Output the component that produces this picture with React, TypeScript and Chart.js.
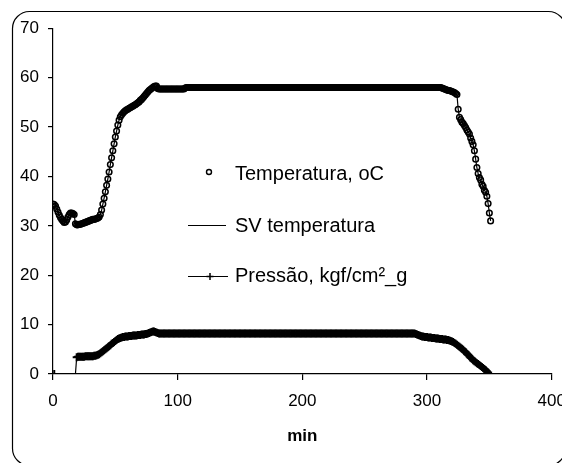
import React, { useEffect, useRef } from "react";
import { Chart, registerables } from "chart.js";

Chart.register(...registerables);

// Series are sampled once per minute, starting at minute 0 (index = minute).
const seriesNames = ["Temperatura, oC", "SV temperatura", "Pressão, kgf/cm²_g"];
const xAxisTitle = "min";
const xTicks = [0, 100, 200, 300, 400];
const yTicks = [0, 10, 20, 30, 40, 50, 60, 70];

// Temperatura, oC — minutes 0..351
const temperature: number[] = [
  34.4, 34.3, 34.0, 33.4, 32.8, 32.2, 31.7, 31.3, 31.0, 30.7, // 0
  30.8, 31.2, 31.8, 32.3, 32.6, 32.6, 32.5, 32.3, 30.4, 30.2, // 10
  30.2, 30.3, 30.3, 30.4, 30.5, 30.6, 30.7, 30.8, 30.9, 31.0, // 20
  31.1, 31.2, 31.3, 31.3, 31.4, 31.5, 31.6, 31.8, 32.3, 33.2, // 30
  34.4, 35.6, 36.9, 38.2, 39.5, 40.9, 42.4, 43.8, 45.2, 46.6, // 40
  48.0, 49.2, 50.4, 51.4, 52.1, 52.5, 52.8, 53.1, 53.3, 53.5, // 50
  53.6, 53.8, 53.9, 54.1, 54.2, 54.4, 54.5, 54.7, 54.9, 55.1, // 60
  55.4, 55.6, 55.9, 56.2, 56.5, 56.8, 57.1, 57.4, 57.6, 57.8, // 70
  58.0, 58.2, 58.3, 58.3, 57.8, 57.7, 57.7, 57.7, 57.7, 57.7, // 80
  57.7, 57.7, 57.7, 57.7, 57.7, 57.7, 57.7, 57.7, 57.7, 57.7, // 90
  57.7, 57.7, 57.7, 57.7, 57.7, 57.7, 57.9, 58.0, 58.0, 58.0, // 100
  58.0, 58.0, 58.0, 58.0, 58.0, 58.0, 58.0, 58.0, 58.0, 58.0, // 110
  58.0, 58.0, 58.0, 58.0, 58.0, 58.0, 58.0, 58.0, 58.0, 58.0, // 120
  58.0, 58.0, 58.0, 58.0, 58.0, 58.0, 58.0, 58.0, 58.0, 58.0, // 130
  58.0, 58.0, 58.0, 58.0, 58.0, 58.0, 58.0, 58.0, 58.0, 58.0, // 140
  58.0, 58.0, 58.0, 58.0, 58.0, 58.0, 58.0, 58.0, 58.0, 58.0, // 150
  58.0, 58.0, 58.0, 58.0, 58.0, 58.0, 58.0, 58.0, 58.0, 58.0, // 160
  58.0, 58.0, 58.0, 58.0, 58.0, 58.0, 58.0, 58.0, 58.0, 58.0, // 170
  58.0, 58.0, 58.0, 58.0, 58.0, 58.0, 58.0, 58.0, 58.0, 58.0, // 180
  58.0, 58.0, 58.0, 58.0, 58.0, 58.0, 58.0, 58.0, 58.0, 58.0, // 190
  58.0, 58.0, 58.0, 58.0, 58.0, 58.0, 58.0, 58.0, 58.0, 58.0, // 200
  58.0, 58.0, 58.0, 58.0, 58.0, 58.0, 58.0, 58.0, 58.0, 58.0, // 210
  58.0, 58.0, 58.0, 58.0, 58.0, 58.0, 58.0, 58.0, 58.0, 58.0, // 220
  58.0, 58.0, 58.0, 58.0, 58.0, 58.0, 58.0, 58.0, 58.0, 58.0, // 230
  58.0, 58.0, 58.0, 58.0, 58.0, 58.0, 58.0, 58.0, 58.0, 58.0, // 240
  58.0, 58.0, 58.0, 58.0, 58.0, 58.0, 58.0, 58.0, 58.0, 58.0, // 250
  58.0, 58.0, 58.0, 58.0, 58.0, 58.0, 58.0, 58.0, 58.0, 58.0, // 260
  58.0, 58.0, 58.0, 58.0, 58.0, 58.0, 58.0, 58.0, 58.0, 58.0, // 270
  58.0, 58.0, 58.0, 58.0, 58.0, 58.0, 58.0, 58.0, 58.0, 58.0, // 280
  58.0, 58.0, 58.0, 58.0, 58.0, 58.0, 58.0, 58.0, 58.0, 58.0, // 290
  58.0, 58.0, 58.0, 58.0, 58.0, 58.0, 58.0, 58.0, 58.0, 58.0, // 300
  58.0, 58.0, 57.9, 57.8, 57.7, 57.6, 57.5, 57.4, 57.4, 57.3, // 310
  57.2, 57.1, 57.0, 56.8, 56.6, 53.6, 52.0, 51.5, 51.0, 50.7, // 320
  50.3, 49.9, 49.4, 49.0, 48.6, 47.8, 47.1, 46.4, 45.2, 43.5, // 330
  41.8, 40.6, 39.8, 39.3, 38.4, 38.0, 37.2, 36.8, 36.0, 34.5, // 340
  32.6, 31.0, // 350
];

// SV temperatura — the set-value trace runs underneath the measured points
const svTemperature: number[] = temperature;

// Pressão, kgf/cm²_g — minutes 0..350
const pressure: (number | null)[] = [
  null, 0, null, null, null, null, null, null, null, null, // 0
  null, null, null, null, null, null, null, null, 0, 3.4, // 10
  3.5, 3.5, 3.5, 3.5, 3.5, 3.5, 3.6, 3.6, 3.6, 3.6, // 20
  3.6, 3.6, 3.6, 3.7, 3.7, 3.8, 3.9, 4.0, 4.2, 4.4, // 30
  4.6, 4.8, 5.0, 5.2, 5.4, 5.6, 5.8, 6.1, 6.3, 6.5, // 40
  6.7, 6.9, 7.1, 7.2, 7.3, 7.4, 7.5, 7.5, 7.6, 7.6, // 50
  7.6, 7.7, 7.7, 7.7, 7.8, 7.8, 7.8, 7.8, 7.9, 7.9, // 60
  7.9, 8.0, 8.0, 8.0, 8.1, 8.1, 8.2, 8.3, 8.4, 8.5, // 70
  8.6, 8.6, 8.5, 8.4, 8.3, 8.2, 8.2, 8.2, 8.2, 8.2, // 80
  8.2, 8.2, 8.2, 8.2, 8.2, 8.2, 8.2, 8.2, 8.2, 8.2, // 90
  8.2, 8.2, 8.2, 8.2, 8.2, 8.2, 8.2, 8.2, 8.2, 8.2, // 100
  8.2, 8.2, 8.2, 8.2, 8.2, 8.2, 8.2, 8.2, 8.2, 8.2, // 110
  8.2, 8.2, 8.2, 8.2, 8.2, 8.2, 8.2, 8.2, 8.2, 8.2, // 120
  8.2, 8.2, 8.2, 8.2, 8.2, 8.2, 8.2, 8.2, 8.2, 8.2, // 130
  8.2, 8.2, 8.2, 8.2, 8.2, 8.2, 8.2, 8.2, 8.2, 8.2, // 140
  8.2, 8.2, 8.2, 8.2, 8.2, 8.2, 8.2, 8.2, 8.2, 8.2, // 150
  8.2, 8.2, 8.2, 8.2, 8.2, 8.2, 8.2, 8.2, 8.2, 8.2, // 160
  8.2, 8.2, 8.2, 8.2, 8.2, 8.2, 8.2, 8.2, 8.2, 8.2, // 170
  8.2, 8.2, 8.2, 8.2, 8.2, 8.2, 8.2, 8.2, 8.2, 8.2, // 180
  8.2, 8.2, 8.2, 8.2, 8.2, 8.2, 8.2, 8.2, 8.2, 8.2, // 190
  8.2, 8.2, 8.2, 8.2, 8.2, 8.2, 8.2, 8.2, 8.2, 8.2, // 200
  8.2, 8.2, 8.2, 8.2, 8.2, 8.2, 8.2, 8.2, 8.2, 8.2, // 210
  8.2, 8.2, 8.2, 8.2, 8.2, 8.2, 8.2, 8.2, 8.2, 8.2, // 220
  8.2, 8.2, 8.2, 8.2, 8.2, 8.2, 8.2, 8.2, 8.2, 8.2, // 230
  8.2, 8.2, 8.2, 8.2, 8.2, 8.2, 8.2, 8.2, 8.2, 8.2, // 240
  8.2, 8.2, 8.2, 8.2, 8.2, 8.2, 8.2, 8.2, 8.2, 8.2, // 250
  8.2, 8.2, 8.2, 8.2, 8.2, 8.2, 8.2, 8.2, 8.2, 8.2, // 260
  8.2, 8.2, 8.2, 8.2, 8.2, 8.2, 8.2, 8.2, 8.2, 8.2, // 270
  8.2, 8.2, 8.2, 8.2, 8.2, 8.2, 8.2, 8.2, 8.2, 8.2, // 280
  8.2, 8.1, 8.0, 7.9, 7.8, 7.7, 7.6, 7.6, 7.5, 7.5, // 290
  7.5, 7.4, 7.4, 7.4, 7.3, 7.3, 7.3, 7.2, 7.2, 7.2, // 300
  7.1, 7.1, 7.1, 7.0, 7.0, 7.0, 6.9, 6.9, 6.8, 6.7, // 310
  6.6, 6.5, 6.3, 6.1, 5.9, 5.7, 5.5, 5.3, 5.1, 4.9, // 320
  4.6, 4.4, 4.1, 3.9, 3.6, 3.3, 3.1, 2.8, 2.6, 2.4, // 330
  2.2, 2.0, 1.8, 1.6, 1.4, 1.2, 1.0, 0.8, 0.5, 0.3, // 340
  0.0, // 350
];

const FONT = '"Liberation Sans", Arial, Helvetica, sans-serif';

const toPoints = (arr: (number | null)[]) => arr.map((v, i) => ({ x: i, y: v }));

const frameAndLegend = {
  id: "frameAndLegend",
  beforeDraw(chart: any) {
    const ctx = chart.ctx as CanvasRenderingContext2D;
    ctx.save();
    ctx.fillStyle = "#ffffff";
    ctx.fillRect(0, 0, chart.width, chart.height);
    ctx.strokeStyle = "#000000";
    ctx.lineWidth = 1.2;
    ctx.beginPath();
    (ctx as any).roundRect(12.5, 11.5, 553, 454, 17);
    ctx.stroke();
    ctx.restore();
  },
  afterDraw(chart: any) {
    const ctx = chart.ctx as CanvasRenderingContext2D;
    ctx.save();
    ctx.fillStyle = "#000";
    ctx.strokeStyle = "#000";
    ctx.font = `20px ${FONT}`;
    ctx.textAlign = "left";
    ctx.textBaseline = "alphabetic";
    const textX = 235;
    // Temperatura marker
    ctx.lineWidth = 1.4;
    ctx.beginPath();
    ctx.arc(209, 172, 2.5, 0, Math.PI * 2);
    ctx.stroke();
    ctx.fillText(seriesNames[0], textX, 179.5);
    // SV line
    ctx.lineWidth = 1.2;
    ctx.beginPath();
    ctx.moveTo(188, 225.5);
    ctx.lineTo(226, 225.5);
    ctx.stroke();
    ctx.fillText(seriesNames[1], textX, 232);
    // Pressão line + cross
    ctx.beginPath();
    ctx.moveTo(188, 276.5);
    ctx.lineTo(228, 276.5);
    ctx.stroke();
    ctx.lineWidth = 1.5;
    ctx.beginPath();
    ctx.moveTo(210, 273);
    ctx.lineTo(210, 280);
    ctx.moveTo(206.5, 276.5);
    ctx.lineTo(213.5, 276.5);
    ctx.stroke();
    ctx.fillText(seriesNames[2], textX, 282);
    ctx.restore();
  },
};

export default function App() {
  const canvasRef = useRef<HTMLCanvasElement | null>(null);

  useEffect(() => {
    if (!canvasRef.current) return;
    const tickFont = { family: FONT, size: 17 };
    const chart = new Chart(canvasRef.current, {
      type: "line",
      data: {
        datasets: [
          {
            label: seriesNames[0],
            data: toPoints(temperature),
            showLine: false,
            pointStyle: "circle",
            pointRadius: 2.8,
            pointBorderWidth: 1.5,
            pointBorderColor: "#000",
            pointBackgroundColor: "rgba(0,0,0,0)",
            borderColor: "#000",
          },
          {
            label: seriesNames[1],
            data: toPoints(svTemperature),
            showLine: true,
            borderColor: "#000",
            borderWidth: 1.2,
            pointRadius: 0,
          },
          {
            label: seriesNames[2],
            data: toPoints(pressure),
            showLine: true,
            spanGaps: false,
            borderColor: "#000",
            borderWidth: 1.2,
            pointStyle: "cross",
            pointRadius: (c: any) => (c.raw && c.raw.y === 0 && c.dataIndex > 1 && c.dataIndex < 20 ? 0 : 4),
            pointBorderWidth: 2,
            pointBorderColor: "#000",
          },
        ],
      } as any,
      options: {
        responsive: false,
        animation: false,
        events: [],
        layout: { padding: { left: 0, right: 10.3, top: 28.3, bottom: 0 } },
        plugins: {
          legend: { display: false },
          tooltip: { enabled: false },
          title: { display: false },
        },
        scales: {
          x: {
            type: "linear",
            min: xTicks[0],
            max: xTicks[xTicks.length - 1],
            afterBuildTicks: (s: any) => {
              s.ticks = xTicks.map((v) => ({ value: v }));
            },
            afterFit: (s: any) => {
              s.height = 89;
              s.paddingLeft = 0;
              s.paddingRight = 0;
            },
            ticks: { font: tickFont, color: "#000", padding: 11, maxRotation: 0, autoSkip: false },
            grid: { drawOnChartArea: false, drawTicks: true, tickLength: 6, color: "#000", lineWidth: 1.2 },
            border: { display: true, color: "#000", width: 1.2 },
            title: {
              display: true,
              text: xAxisTitle,
              color: "#000",
              font: { family: FONT, size: 17, weight: "bold" },
              padding: { top: 0, bottom: 16 },
            },
          },
          y: {
            type: "linear",
            min: yTicks[0],
            max: yTicks[yTicks.length - 1],
            afterBuildTicks: (s: any) => {
              s.ticks = yTicks.map((v) => ({ value: v }));
            },
            afterFit: (s: any) => {
              s.width = 53;
              s.paddingTop = 0;
              s.paddingBottom = 0;
            },
            ticks: { font: tickFont, color: "#000", padding: 9, autoSkip: false },
            grid: { drawOnChartArea: false, drawTicks: true, tickLength: 5, color: "#000", lineWidth: 1.2 },
            border: { display: true, color: "#000", width: 1.2 },
          },
        },
      } as any,
      plugins: [frameAndLegend],
    });
    return () => chart.destroy();
  }, []);

  return (
    <div style={{ position: "fixed", left: 0, top: 0, width: 562, height: 463, background: "#fff" }}>
      <canvas ref={canvasRef} width={562} height={463} style={{ display: "block", width: 562, height: 463 }} />
    </div>
  );
}
